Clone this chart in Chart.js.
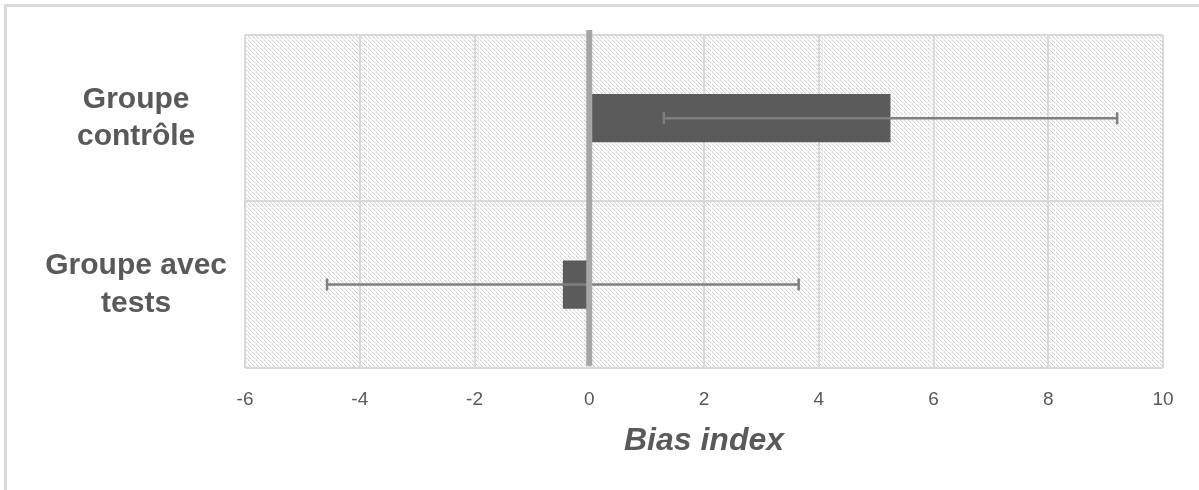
<!DOCTYPE html>
<html><head><meta charset="utf-8">
<script src="https://cdn.jsdelivr.net/npm/chart.js@4/dist/chart.umd.min.js"></script>
<style>html,body{margin:0;padding:0;background:#fff;} #wrap{position:relative;width:1199px;height:490px;}</style>
</head><body><div id="wrap"><canvas id="c" width="1199" height="490"></canvas></div>
<script>
const categories = [['Groupe', 'contrôle'], ['Groupe avec', 'tests']];
const biasValues = [5.25, -0.46];
const errorMargins = [3.95, 4.11];
const xTicks = [-6, -4, -2, 0, 2, 4, 6, 8, 10];
const axisTitle = 'Bias index';

const TEXT = '#595959';
const GRID = '#d9d9d9';

function makeHatch() {
  const n = 8;
  const p = document.createElement('canvas');
  p.width = n; p.height = n;
  const g = p.getContext('2d');
  const img = g.createImageData(n, n);
  for (let y = 0; y < n; y++) {
    for (let x = 0; x < n; x++) {
      const k = ((x - y) % 4 + 4) % 4;
      let v = 255;
      if (k === 0) v = (y % 4 === 3) ? 240 : 210;
      else if (k === 1) v = 243;
      const o = (y * n + x) * 4;
      img.data[o] = v; img.data[o + 1] = v; img.data[o + 2] = v; img.data[o + 3] = 255;
    }
  }
  g.putImageData(img, 0, 0);
  return p;
}
const hatchCanvas = makeHatch();

const bgPlugin = {
  id: 'bg',
  beforeDraw(chart) {
    const ctx = chart.ctx, a = chart.chartArea;
    ctx.save();
    ctx.fillStyle = '#fff';
    ctx.fillRect(0, 0, chart.width, chart.height);
    ctx.strokeStyle = GRID;
    ctx.lineWidth = 3;
    ctx.strokeRect(5.5, 5.5, 1400, 700);
    ctx.fillStyle = ctx.createPattern(hatchCanvas, 'repeat');
    ctx.fillRect(a.left, a.top, a.right - a.left, a.bottom - a.top);
    ctx.restore();
  }
};

const errPlugin = {
  id: 'err',
  afterDatasetsDraw(chart) {
    const ctx = chart.ctx, xs = chart.scales.x, a = chart.chartArea;
    const meta = chart.getDatasetMeta(0);
    ctx.save();
    ctx.strokeStyle = '#7f7f7f';
    ctx.lineWidth = 2.5;
    meta.data.forEach((bar, i) => {
      const v = biasValues[i], e = errorMargins[i];
      const lo = xs.getPixelForValue(v - e), hi = xs.getPixelForValue(v + e);
      const y = bar.y;
      ctx.beginPath();
      ctx.moveTo(lo, y); ctx.lineTo(hi, y);
      ctx.moveTo(lo, y - 6); ctx.lineTo(lo, y + 6);
      ctx.moveTo(hi, y - 6); ctx.lineTo(hi, y + 6);
      ctx.stroke();
    });
    const x0 = xs.getPixelForValue(0);
    ctx.fillStyle = '#a6a6a6';
    ctx.fillRect(x0 - 3, a.top - 5, 6, a.bottom - a.top + 3);
    ctx.restore();
  }
};

new Chart(document.getElementById('c'), {
  type: 'bar',
  data: {
    labels: categories,
    datasets: [{
      data: biasValues,
      backgroundColor: '#5b5b5b',
      borderWidth: 0,
      barPercentage: 0.29,
      categoryPercentage: 1.0
    }]
  },
  options: {
    indexAxis: 'y',
    responsive: false,
    animation: false,
    devicePixelRatio: 1,
    layout: { padding: { left: 0, right: 36, top: 35, bottom: 30 } },
    plugins: { legend: { display: false }, tooltip: { enabled: false } },
    scales: {
      x: {
        type: 'linear',
        min: -6, max: 10,
        afterBuildTicks: s => { s.ticks = xTicks.map(v => ({ value: v })); },
        afterFit: s => { s.paddingLeft = 0; s.paddingRight = 0; },
        grid: { color: GRID, lineWidth: 2, drawTicks: false },
        border: { display: false },
        ticks: { color: TEXT, font: { family: 'Liberation Sans, Arial, sans-serif', size: 19 }, padding: 21 },
        title: {
          display: true, text: axisTitle, color: TEXT,
          font: { family: 'Liberation Sans, Arial, sans-serif', size: 32, weight: 'bold', style: 'italic' },
          padding: { top: -11, bottom: 0 }
        }
      },
      y: {
        grid: { color: GRID, lineWidth: 2, drawTicks: false, offset: true },
        border: { display: false },
        afterFit: s => { s.width = 245; s.paddingTop = 0; s.paddingBottom = 0; },
        ticks: {
          color: TEXT, crossAlign: 'center', padding: 18,
          font: { family: 'Liberation Sans, Arial, sans-serif', size: 30, weight: 'bold', lineHeight: 1.25 }
        }
      }
    }
  },
  plugins: [bgPlugin, errPlugin]
});
</script>
</body></html>
